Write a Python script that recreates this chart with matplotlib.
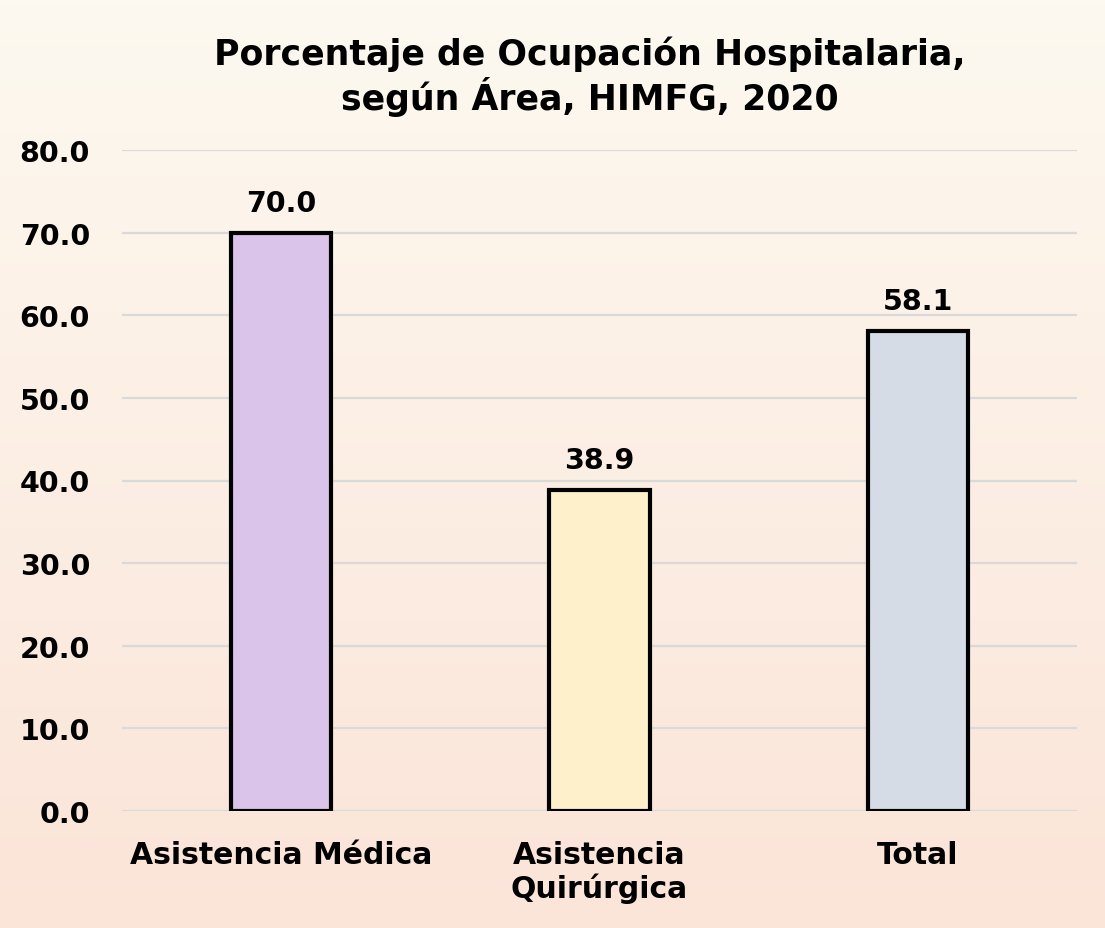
import numpy as np
import matplotlib.pyplot as plt
from matplotlib.colors import LinearSegmentedColormap

categorias = ['Asistencia Médica', 'Asistencia\nQuirúrgica', 'Total']
valores = [70.0, 38.9, 58.1]
colores = ['#DBC4EA', '#FFF0CC', '#D6DCE5']
titulo = 'Porcentaje de Ocupación Hospitalaria,\nsegún Área, HIMFG, 2020'

plt.rcParams['font.family'] = ['DejaVu Sans']
plt.rcParams['font.weight'] = 'bold'

fig = plt.figure(figsize=(11.05, 9.29), dpi=100)

# fondo degradado
bg = fig.add_axes([0, 0, 1, 1], zorder=-10)
cmap = LinearSegmentedColormap.from_list('fondo', ['#FDF9F0', '#FBE4D8'])
bg.imshow(np.linspace(0, 1, 256).reshape(-1, 1), aspect='auto', cmap=cmap,
          extent=[0, 1, 0, 1])
bg.axis('off')

ax = fig.add_axes([122 / 1105, 1 - 812 / 929, 955 / 1105, 661 / 929])
ax.patch.set_alpha(0)
x = np.arange(len(categorias))
ax.bar(x, valores, width=0.315, color=colores, edgecolor='black',
       linewidth=3, zorder=3)
ax.set_xlim(-0.5, 2.5)
ax.set_ylim(0, 80)
ax.set_yticks(np.arange(0, 81, 10))
ax.set_yticklabels([f'{v:.1f}' for v in np.arange(0, 81, 10)], fontsize=20.5,
                   fontweight='bold')
ax.set_xticks(x)
ax.set_xticklabels(categorias, fontsize=21.5, fontweight='bold', linespacing=1.15)
ax.grid(axis='y', color='#D9D9D9', linewidth=1.6, zorder=0)
for s in ax.spines.values():
    s.set_visible(False)
ax.tick_params(axis='both', length=0)
ax.tick_params(axis='y', pad=23)
ax.tick_params(axis='x', pad=21)

for xi, v in zip(x, valores):
    ax.text(xi, v + 1.9, f'{v:.1f}', ha='center', va='bottom', fontsize=20.5,
            fontweight='bold')

fig.text(590 / 1105, 1 - 77 / 929, titulo, ha='center', va='center',
         fontsize=25, fontweight='bold', linespacing=1.15)

fig.savefig('out.png', dpi=100)
